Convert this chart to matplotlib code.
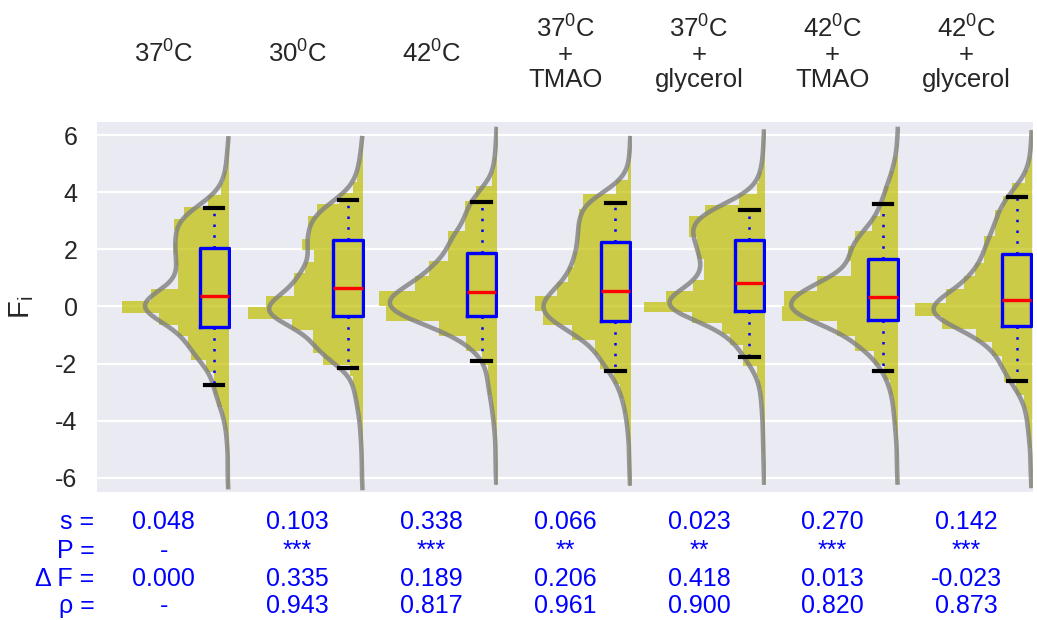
import numpy as np
import matplotlib.pyplot as plt

plt.rcParams['font.family'] = ['Liberation Sans', 'DejaVu Sans']
plt.rcParams['mathtext.fontset'] = 'custom'
plt.rcParams['mathtext.rm'] = 'Liberation Sans'
plt.rcParams['mathtext.it'] = 'Liberation Sans:italic'
plt.rcParams['axes.unicode_minus'] = False

titles = ['37$^{\\mathrm{0}}$C', '30$^{\\mathrm{0}}$C', '42$^{\\mathrm{0}}$C',
          '37$^{\\mathrm{0}}$C\n+\nTMAO', '37$^{\\mathrm{0}}$C\n+\nglycerol',
          '42$^{\\mathrm{0}}$C\n+\nTMAO', '42$^{\\mathrm{0}}$C\n+\nglycerol']

# histogram: upper edge of the first bin, bin width, bar lengths listed top -> bottom
hist_top = [5.96, 5.97, 6.29, 5.97, 6.199, 6.29, 6.17]
hist_bin = [0.412, 0.40, 0.522, 0.51, 0.377, 0.522, 0.464]
hist_len = [
    [0.01, 0.02, 0.02, 0.04, 0.06, 0.16, 0.34, 0.42, 0.40, 0.42, 0.40, 0.39, 0.39, 0.59, 0.81,
     0.53, 0.39, 0.31, 0.29, 0.18, 0.12, 0.12, 0.09, 0.05, 0.03, 0.02, 0.015, 0.01, 0.01, 0.02],
    [0.01, 0.02, 0.03, 0.05, 0.08, 0.18, 0.35, 0.42, 0.40, 0.46, 0.37, 0.44, 0.52, 0.52, 0.73,
     0.87, 0.54, 0.38, 0.38, 0.30, 0.10, 0.08, 0.06, 0.05, 0.03, 0.02, 0.02, 0.01, 0.01, 0.01, 0.01],
    [0.005, 0.01, 0.02, 0.04, 0.16, 0.24, 0.24, 0.37, 0.37, 0.51, 0.62, 0.89, 0.84, 0.44, 0.23,
     0.11, 0.07, 0.07, 0.04, 0.03, 0.015, 0.01, 0.01, 0.01],
    [0.005, 0.01, 0.02, 0.11, 0.36, 0.39, 0.40, 0.40, 0.43, 0.47, 0.56, 0.72, 0.66, 0.44, 0.27,
     0.23, 0.13, 0.08, 0.05, 0.03, 0.02, 0.01, 0.01, 0.01],
    [0.005, 0.01, 0.01, 0.02, 0.04, 0.06, 0.19, 0.45, 0.57, 0.57, 0.51, 0.51, 0.46, 0.46, 0.54,
     0.74, 0.91, 0.55, 0.32, 0.26, 0.16, 0.16, 0.06, 0.04, 0.03, 0.02, 0.02, 0.01, 0.01, 0.01,
     0.005, 0.005, 0.005],
    [0.005, 0.01, 0.03, 0.065, 0.11, 0.14, 0.20, 0.33, 0.38, 0.36, 0.61, 0.86, 0.88, 0.46, 0.33,
     0.18, 0.11, 0.06, 0.04, 0.03, 0.02, 0.01, 0.01, 0.01],
    [0.005, 0.01, 0.02, 0.05, 0.15, 0.22, 0.28, 0.28, 0.36, 0.36, 0.43, 0.51, 0.65, 0.88, 0.68,
     0.42, 0.30, 0.23, 0.21, 0.12, 0.06, 0.04, 0.03, 0.02, 0.01, 0.01, 0.01],
]

# box stats
whislo = [-2.76, -2.15, -1.91, -2.26, -1.77, -2.27, -2.60]
q1 = [-0.73, -0.35, -0.32, -0.52, -0.17, -0.46, -0.67]
med = [0.37, 0.64, 0.49, 0.55, 0.82, 0.34, 0.22]
q3 = [2.05, 2.32, 1.86, 2.26, 2.32, 1.67, 1.82]
whishi = [3.45, 3.74, 3.67, 3.61, 3.36, 3.60, 3.83]

s_vals = ['0.048', '0.103', '0.338', '0.066', '0.023', '0.270', '0.142']
p_vals = ['-', '***', '***', '**', '**', '***', '***']
dF_vals = ['0.000', '0.335', '0.189', '0.206', '0.418', '0.013', '-0.023']
rho_vals = ['-', '0.943', '0.817', '0.961', '0.900', '0.820', '0.873']
row_names = ['s =', 'P =', '\u0394 F =', '\u03c1 =']

bw = 0.42
blue = '#0000FF'
txt = '#262626'

fig, axes = plt.subplots(1, 7, sharey=True, figsize=(10.37, 6.2), dpi=100,
                         gridspec_kw=dict(wspace=0))
fig.subplots_adjust(left=0.0935, right=0.9965, top=0.803, bottom=0.206)

for i, ax in enumerate(axes):
    n = len(hist_len[i])
    lens = np.array(hist_len[i][::-1])
    edges = hist_top[i] - hist_bin[i] * n + hist_bin[i] * np.arange(n + 1)
    ax.stairs(-lens, edges, orientation='horizontal', fill=True, baseline=0,
              color='y', alpha=0.7, lw=0, zorder=2)

    # smoothed density of the histogram
    centers = (edges[:-1] + edges[1:]) / 2
    grid = np.linspace(edges[0], edges[-1], 300)
    kern = np.exp(-0.5 * ((grid[None, :] - centers[:, None]) / bw) ** 2) / (bw * np.sqrt(2 * np.pi))
    kde = (lens[:, None] * hist_bin[i] * kern).sum(0)
    ax.plot(-kde, grid, color='gray', lw=3.3, alpha=0.8, zorder=3, solid_capstyle='butt')

    stats = [dict(whislo=whislo[i], q1=q1[i], med=med[i], q3=q3[i], whishi=whishi[i], fliers=[])]
    ax.bxp(stats, positions=[-0.115], widths=0.22, capwidths=0.14, showfliers=False,
           manage_ticks=False,
           boxprops=dict(color=blue, lw=2.4),
           medianprops=dict(color='red', lw=2.4),
           whiskerprops=dict(color=blue, lw=1.8, linestyle=(0, (1, 3.3))),
           capprops=dict(color='black', lw=3),
           zorder=4)

    ax.set_facecolor('#EAEAF2')
    for sp in ax.spines.values():
        sp.set_visible(False)
    ax.set_xlim(-1.0, 0.01)
    ax.set_xticks([])
    ax.grid(axis='y', color='white', lw=1.6, zorder=0)
    ax.set_axisbelow(True)
    ax.tick_params(axis='y', length=0, pad=14, labelsize=18, labelcolor=txt)

    ax.text(0.5, 1.185, titles[i], transform=ax.transAxes, ha='center', va='center',
            fontsize=18.5, color=txt, linespacing=1.05)

    for val, yy in zip([s_vals[i], p_vals[i], dF_vals[i], rho_vals[i]],
                       [-0.081, -0.158, -0.235, -0.308]):
        ax.text(0.5, yy, val, transform=ax.transAxes, ha='center', va='center',
                fontsize=18, color=blue)

axes[0].set_ylim(-6.5, 6.45)
axes[0].set_yticks(np.arange(-6, 7, 2))
axes[0].set_ylabel('F$_{\\mathrm{i}}$', fontsize=21, color=txt, labelpad=14)

for name, yy in zip(row_names, [-0.081, -0.158, -0.235, -0.308]):
    axes[0].text(-0.02, yy, name, transform=axes[0].transAxes, ha='right', va='center',
                 fontsize=18, color=blue)

fig.savefig('out.png', dpi=100)
